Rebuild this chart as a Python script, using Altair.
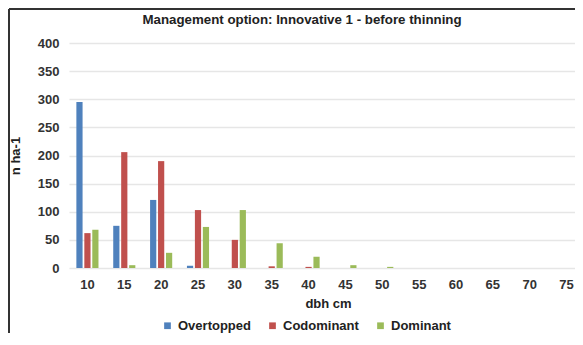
import altair as alt
import pandas as pd

title_text = ["Management option: Innovative 1 - before thinning"]
dbh = [10, 15, 20, 25, 30, 35, 40, 45, 50, 55, 60, 65, 70, 75]
overtopped = [295, 75, 121, 4, 0, 0, 0, 0, 0, 0, 0, 0, 0, 0]
codominant = [62, 206, 190, 103, 50, 3, 2, 0, 0, 0, 0, 0, 0, 0]
dominant = [68, 5, 27, 73, 103, 44, 20, 5, 2, 0, 0, 0, 0, 0]
series = ["Overtopped", "Codominant", "Dominant"]
colors = ["#4F81BD", "#C0504D", "#9BBB59"]

rows = []
for name, vals in zip(series, [overtopped, codominant, dominant]):
    for d, v in zip(dbh, vals):
        rows.append({"dbh": str(d), "class": name, "n": v})
df = pd.DataFrame(rows)

FONT = "Liberation Sans"

bars = alt.Chart(df).mark_bar(clip=True).encode(
    x=alt.X("dbh:N", sort=[str(d) for d in dbh],
            scale=alt.Scale(paddingInner=0.4, paddingOuter=0.2,
                            range=[0, 516]),
            axis=alt.Axis(title="dbh cm", labelAngle=0, ticks=False,
                          domain=False, labelPadding=10,
                          titlePadding=6, titleX=259)),
    xOffset=alt.XOffset("class:N", sort=series,
                        scale=alt.Scale(paddingInner=0.22, paddingOuter=0)),
    y=alt.Y("n:Q", scale=alt.Scale(domain=[0, 400]),
            axis=alt.Axis(title="n ha-1", values=list(range(0, 401, 50)),
                          ticks=False, domain=False, labelPadding=10,
                          titlePadding=15, gridColor="#e6e6e6",
                          gridWidth=1.5)),
    color=alt.Color("class:N", sort=series,
                    scale=alt.Scale(domain=series, range=colors),
                    legend=alt.Legend(title=None, orient="none",
                                      legendX=92, legendY=276,
                                      direction="horizontal",
                                      symbolType="square", symbolSize=45,
                                      symbolStrokeWidth=0, padding=0,
                                      labelFontSize=13, labelFont=FONT,
                                      labelFontWeight="bold",
                                      labelColor="#222", columnPadding=15,
                                      labelOffset=4)),
)

title_mark = alt.Chart(pd.DataFrame({"t": title_text})).mark_text(
    font=FONT, fontSize=13.3, fontWeight="bold", color="#222",
    align="center", baseline="middle").encode(
    text="t:N", x=alt.value(233), y=alt.value(-23))

top_border = alt.Chart(pd.DataFrame({"a": [0]})).mark_rule(
    color="#333", strokeWidth=2).encode(
    x=alt.value(-60), x2=alt.value(506), y=alt.value(-34))
left_border = alt.Chart(pd.DataFrame({"a": [0]})).mark_rule(
    color="#333", strokeWidth=2).encode(
    x=alt.value(-60), y=alt.value(-34), y2=alt.value(290))

chart = alt.layer(top_border, left_border, title_mark, bars).properties(
    width=506, height=225,
    autosize=alt.AutoSizeParams(type="none"),
    padding={"left": 61, "top": 35, "right": 0, "bottom": 65},
).configure_axis(
    labelFont=FONT, labelFontSize=13, labelFontWeight="bold",
    labelColor="#333", titleFont=FONT, titleFontSize=13,
    titleFontWeight="bold", titleColor="#222",
).configure_view(stroke=None)

chart.save("out.html", embed_options={"renderer": "svg", "actions": False})
